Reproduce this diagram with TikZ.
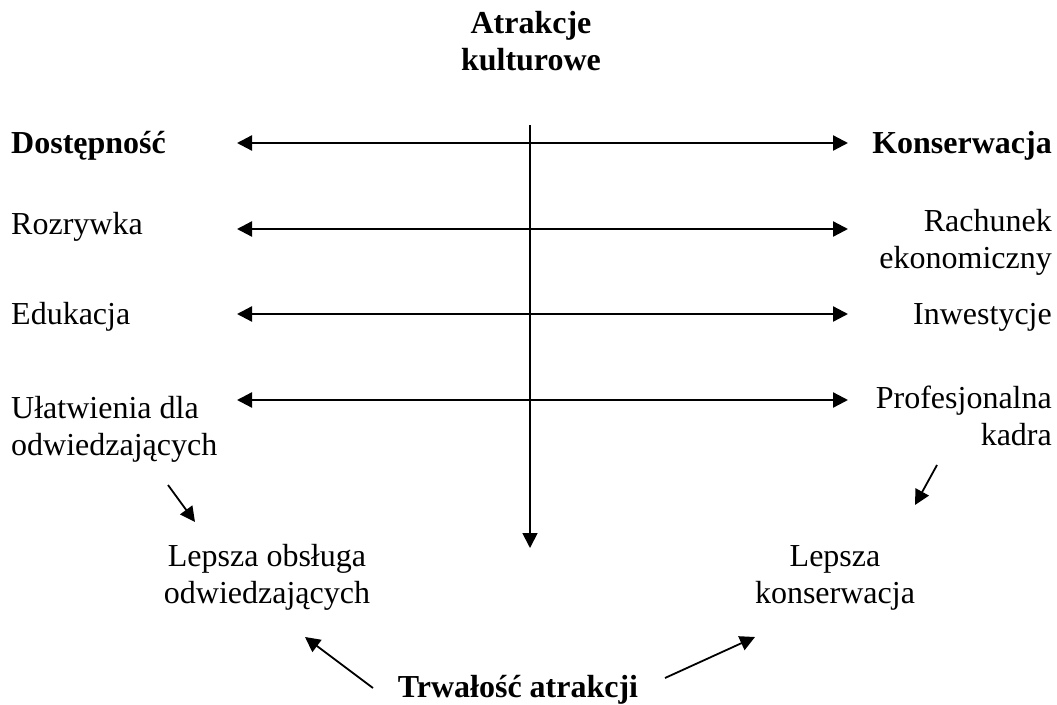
\documentclass[tikz,border=0pt]{standalone}
\usepackage{fontspec}
\setmainfont{Liberation Serif}
\usetikzlibrary{arrows.meta}
\tikzset{
  lab/.style={inner sep=0pt, font=\fontsize{32}{37}\selectfont},
  labB/.style={inner sep=0pt, font=\fontsize{32}{37}\selectfont\bfseries},
  twoway/.style={line width=2.3pt, {Triangle[length=15pt,width=15pt]}-{Triangle[length=15pt,width=15pt]}},
  oneway/.style={line width=1.8pt, -{Triangle[length=15pt,width=15pt]}},
}

\begin{document}
\begin{tikzpicture}[x=1pt,y=-1pt]
\useasboundingbox (0,0) rectangle (1057,704);
% labels (base of a two-line label = its last line)
\node[labB, align=center, anchor=base] (tytul) at (531,70) {Atrakcje\\kulturowe};
\node[labB, anchor=base west] (dost) at (11,153) {Dostępność};
\node[labB, anchor=base east] (kons) at (1052,153) {Konserwacja};
\node[lab, anchor=base west] (rozr) at (11,234) {Rozrywka};
\node[lab, anchor=base east, align=right] (rach) at (1052,268) {Rachunek\\ekonomiczny};
\node[lab, anchor=base west] (eduk) at (11,324) {Edukacja};
\node[lab, anchor=base east] (inwe) at (1052,324) {Inwestycje};
\node[lab, anchor=base west, align=left] (ulat) at (11,455) {Ułatwienia dla\\odwiedzających};
\node[lab, anchor=base east, align=right] (prof) at (1052,445) {Profesjonalna\\kadra};
\node[lab, anchor=base, align=center] (obsl) at (267,603) {Lepsza obsługa\\odwiedzających};
\node[lab, anchor=base, align=center] (lkons) at (835,603) {Lepsza\\konserwacja};
\node[labB, anchor=base] (trwa) at (518,697) {Trwałość atrakcji};
% arrows
\foreach \y/\n in {143/a,229/b,314/c,400/d}{
  \coordinate (L\n) at (237,\y); \coordinate (R\n) at (848,\y);
  \draw[twoway] (L\n) -- (R\n);
}
\coordinate (vtop) at (530,125); \coordinate (vbot) at (530,548);
\draw[oneway] (vtop) -- (vbot);
\coordinate (ulS) at (168,485); \coordinate (ulE) at (195,522);
\draw[oneway] (ulS) -- (ulE);
\coordinate (prS) at (937,465); \coordinate (prE) at (915,505);
\draw[oneway] (prS) -- (prE);
\coordinate (twL) at (373,688); \coordinate (obE) at (305,637);
\draw[oneway] (twL) -- (obE);
\coordinate (twR) at (665,678); \coordinate (koE) at (755,637);
\draw[oneway] (twR) -- (koE);
\end{tikzpicture}
\end{document}
